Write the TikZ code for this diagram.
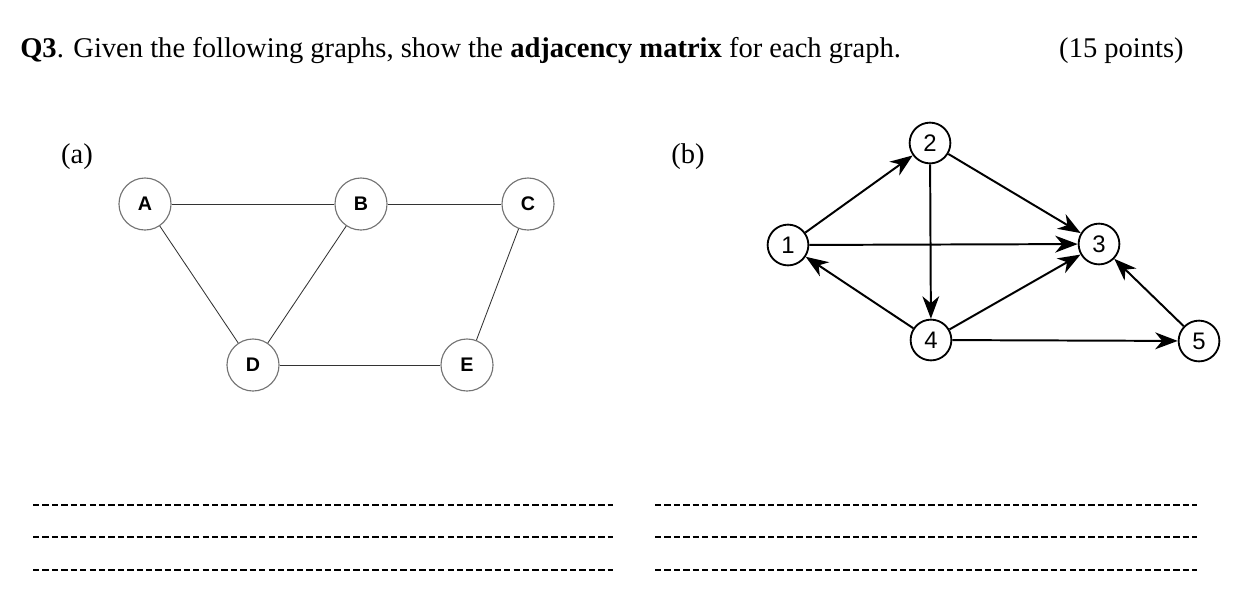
\documentclass[tikz,border=0pt]{standalone}
\usepackage{fontspec}
\setmainfont{Liberation Serif}
\newfontfamily\lab{Liberation Sans}
\usetikzlibrary{arrows.meta}
\tikzset{
 anode/.style={circle,draw=black!55,line width=0.8pt,minimum size=37pt,inner sep=0pt,font=\lab\bfseries\fontsize{14}{14}\selectfont},
 bnode/.style={circle,draw,line width=1.3pt,minimum size=29pt,inner sep=0pt,font=\lab\fontsize{17}{17}\selectfont},
 aedge/.style={draw=black!80,line width=0.6pt},
 bedge/.style={draw,line width=1.4pt,-{Stealth[length=16pt,width=12pt,inset=5pt]}},
 dline/.style={line width=0.8pt,dash pattern=on 4.5pt off 2.2pt},
 ttl/.style={anchor=base west,inner sep=0pt,font=\fontsize{20.3}{22}\selectfont}
}
\begin{document}
\begin{tikzpicture}[x=0.025cm,y=-0.025cm]
\useasboundingbox (0,0) rectangle (1256,594);
\node[ttl] (t) at (20,57) {\textbf{Q3}. Given the following graphs, show the \textbf{adjacency matrix} for each graph.};
\node[ttl,anchor=base east] (p) at (1184,57) {(15 points)};
\node[ttl,anchor=base] (la) at (77,163) {(a)};
\node[ttl,anchor=base] (lb) at (688,163) {(b)};
\node[anode] (A) at (145,204) {A};
\node[anode] (B) at (361,204) {B};
\node[anode] (C) at (528,204) {C};
\node[anode] (D) at (253,365) {D};
\node[anode] (E) at (467,365) {E};
\draw[aedge] (A)--(B); \draw[aedge] (B)--(C); \draw[aedge] (A)--(D);
\draw[aedge] (B)--(D); \draw[aedge] (D)--(E); \draw[aedge] (C)--(E);
\node[bnode] (n1) at (788,245) {1};
\node[bnode] (n2) at (930,143) {2};
\node[bnode] (n3) at (1099,244) {3};
\node[bnode] (n4) at (931,340) {4};
\node[bnode] (n5) at (1199,341) {5};
\draw[bedge] (n1)--(n2); \draw[bedge] (n1)--(n3); \draw[bedge] (n2)--(n3);
\draw[bedge] (n2)--(n4); \draw[bedge] (n4)--(n1); \draw[bedge] (n4)--(n3);
\draw[bedge] (n4)--(n5); \draw[bedge] (n5)--(n3);
\foreach \y [count=\i] in {505,537,570}{
 \coordinate (l\i a) at (33,\y); \coordinate (l\i b) at (613,\y);
 \coordinate (r\i a) at (655,\y); \coordinate (r\i b) at (1197,\y);
 \draw[dline] (l\i a)--(l\i b); \draw[dline] (r\i a)--(r\i b);
}
\end{tikzpicture}
\end{document}
